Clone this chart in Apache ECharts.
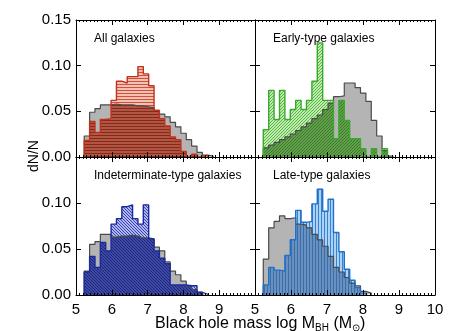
<!DOCTYPE html>
<html>
<head>
<meta charset="utf-8">
<title>Black hole mass histograms</title>
<script src="https://cdn.jsdelivr.net/npm/echarts@6/dist/echarts.min.js"></script>
<style>
  html, body { margin: 0; padding: 0; background: #fff; }
  #main { width: 449px; height: 331px; }
</style>
</head>
<body>
<div id="main"></div>
<script type="text/javascript">
// histogram bins (log M_BH): left edge of the first bin and bin width
var binStart = 5.23;
var binWidth = 0.15;

var xTicks = [5, 6, 7, 8, 9, 10];
var yTicks = [0, 0.05, 0.10, 0.15];
var panelNames = ['All galaxies', 'Early-type galaxies', 'Indeterminate-type galaxies', 'Late-type galaxies'];

// dN/N per bin
var grayAll    = [0.023, 0.049, 0.053, 0.057, 0.057, 0.058, 0.057, 0.057, 0.057, 0.056, 0.056, 0.055, 0.054, 0.051, 0.047, 0.044, 0.038, 0.033, 0.026, 0.019, 0.012, 0.005, 0.002, 0.001];
var redAll     = [0.018, 0.039, 0.027, 0.041, 0.042, 0.062, 0.083, 0.081, 0.088, 0.088, 0.099, 0.091, 0.078, 0.051, 0.042, 0.034, 0.022, 0.019, 0.006, 0.000, 0.003, 0.000, 0.002, 0.000];

var grayEarly  = [0.010, 0.013, 0.016, 0.019, 0.022, 0.025, 0.029, 0.033, 0.037, 0.042, 0.046, 0.052, 0.059, 0.066, 0.067, 0.081, 0.081, 0.076, 0.070, 0.061, 0.040, 0.023, 0.007, 0.001];
var greenEarly = [0.030, 0.073, 0.041, 0.073, 0.041, 0.052, 0.062, 0.052, 0.062, 0.083, 0.125, 0.062, 0.062, 0.020, 0.062, 0.040, 0.020, 0.020, 0.009, 0.000, 0.009, 0.000, 0.009, 0.000];

var grayIndet  = [0.026, 0.055, 0.058, 0.066, 0.066, 0.063, 0.064, 0.064, 0.065, 0.064, 0.062, 0.062, 0.061, 0.052, 0.048, 0.036, 0.026, 0.022, 0.015, 0.010, 0.006, 0.003, 0.001, 0.000];
var blueIndet  = [0.025, 0.042, 0.030, 0.057, 0.048, 0.077, 0.083, 0.096, 0.098, 0.083, 0.077, 0.098, 0.061, 0.048, 0.040, 0.034, 0.011, 0.011, 0.011, 0.010, 0.010, 0.003, 0.000, 0.000];

var grayLate   = [0.039, 0.073, 0.080, 0.086, 0.083, 0.084, 0.077, 0.076, 0.073, 0.066, 0.060, 0.053, 0.042, 0.030, 0.025, 0.019, 0.013, 0.010, 0.004, 0.002, 0.000, 0.000, 0.000, 0.000];
var blueLate   = [0.011, 0.030, 0.027, 0.026, 0.043, 0.060, 0.092, 0.079, 0.080, 0.099, 0.115, 0.091, 0.104, 0.068, 0.047, 0.028, 0.016, 0.008, 0.002, 0.000, 0.000, 0.000, 0.000, 0.000];

var FONT = 'Liberation Sans, Arial, Helvetica, sans-serif';

// small canvas tiles used as hatch fills
function hatch(bg, fg, kind) {
    var s = 3;
    var c = document.createElement('canvas');
    c.width = s; c.height = s;
    var g = c.getContext('2d');
    g.fillStyle = bg;
    g.fillRect(0, 0, s, s);
    g.fillStyle = fg;
    for (var k = 0; k < s; k++) {
        if (kind === 'h') g.fillRect(k, 0, 1, 1);
        if (kind === 'v') g.fillRect(0, k, 1, 1);
        if (kind === 'd') g.fillRect(k, s - 1 - k, 1, 1);
        if (kind === 'b') g.fillRect(k, k, 1, 1);
    }
    return { image: c, repeat: 'repeat' };
}

// histogram -> points for a step line
function stepData(vals) {
    var n = vals.length;
    while (n > 0 && vals[n - 1] === 0) n--;
    var pts = [[binStart, 0]];
    for (var i = 0; i < n; i++) pts.push([binStart + i * binWidth, vals[i]]);
    pts.push([binStart + n * binWidth, 0]);
    return pts;
}

var panels = [
    { vals: redAll, gray: grayAll, line: '#c3301b',
      light: hatch('#f4c2b4', '#d0503a', 'h'), dark: hatch('#b25644', '#86291a', 'h') },
    { vals: greenEarly, gray: grayEarly, line: '#3aaa2c',
      light: hatch('#c0eab0', '#56b845', 'd'), dark: hatch('#62a04c', '#3a7a2a', 'd') },
    { vals: blueIndet, gray: grayIndet, line: '#1a28a0',
      light: hatch('#b0b6ec', '#3442b4', 'b'), dark: hatch('#3e4aa4', '#1e267a', 'b') },
    { vals: blueLate, gray: grayLate, line: '#1f6fcc',
      light: hatch('#acd2f4', '#3482d4', 'v'), dark: hatch('#6890c0', '#3c6ea6', 'v') }
];

var grids = [
    { left: 76, top: 20, width: 179, height: 137 },
    { left: 255, top: 20, width: 180, height: 137 },
    { left: 76, top: 157, width: 179, height: 138 },
    { left: 255, top: 157, width: 180, height: 138 }
];

var axisLine = { show: true, onZero: false, lineStyle: { color: '#000', width: 1 } };
var xAxes = [], yAxes = [], series = [], graphics = [];

grids.forEach(function (g, k) {
    var bottomRow = k >= 2, leftCol = k % 2 === 0;
    [ 'bottom', 'top' ].forEach(function (pos) {
        xAxes.push({
            type: 'value', gridIndex: k, position: pos,
            min: xTicks[0], max: xTicks[xTicks.length - 1], interval: 1,
            z: 10,
            axisLine: axisLine,
            axisTick: { inside: true, length: 5, lineStyle: { color: '#000' } },
            minorTick: { show: true, splitNumber: 10, length: 2, lineStyle: { color: '#000' } },
            splitLine: { show: false },
            axisLabel: {
                show: pos === 'bottom' && bottomRow,
                showMaxLabel: !leftCol,
                margin: 7, color: '#000', fontSize: 15, fontFamily: FONT
            }
        });
    });
    [ 'left', 'right' ].forEach(function (pos) {
        yAxes.push({
            type: 'value', gridIndex: k, position: pos,
            min: yTicks[0], max: yTicks[yTicks.length - 1], interval: 0.05,
            z: 10,
            axisLine: axisLine,
            axisTick: { inside: true, length: 5, lineStyle: { color: '#000' } },
            splitLine: { show: false },
            axisLabel: {
                show: pos === 'left' && leftCol,
                showMaxLabel: !bottomRow,
                margin: 5, color: '#000', fontSize: 15, fontFamily: FONT,
                formatter: function (v) { return v.toFixed(2); }
            }
        });
    });

    var p = panels[k];
    var low = p.vals.map(function (v, i) { return Math.min(v, p.gray[i]); });
    var base = { type: 'line', xAxisIndex: 2 * k, yAxisIndex: 2 * k, step: 'end',
                 symbol: 'none', silent: true, animation: false };
    series.push(Object.assign({}, base, { data: stepData(p.vals), z: 1,
        lineStyle: { opacity: 0 }, areaStyle: { color: p.light, opacity: 1 } }));
    series.push(Object.assign({}, base, { data: stepData(p.gray), z: 2,
        lineStyle: { opacity: 0 }, areaStyle: { color: '#b4b4b4', opacity: 1 } }));
    series.push(Object.assign({}, base, { data: stepData(low), z: 3,
        lineStyle: { opacity: 0 }, areaStyle: { color: p.dark, opacity: 1 } }));
    series.push(Object.assign({}, base, { data: stepData(p.gray), z: 4,
        lineStyle: { color: '#4a4a4a', width: 1.2 } }));
    series.push(Object.assign({}, base, { data: stepData(p.vals), z: 5,
        lineStyle: { color: p.line, width: 1.4 } }));

    graphics.push({
        type: 'text', left: g.left + 18, top: g.top + 13,
        style: { text: panelNames[k], fill: '#000', font: '12px ' + FONT }
    });
});

graphics.push({
    type: 'text', x: 34, y: 156, rotation: Math.PI / 2,
    style: { text: 'dN/N', fill: '#000', font: '14px ' + FONT, align: 'center', verticalAlign: 'middle' }
});

var myChart = echarts.init(document.getElementById('main'));
myChart.setOption({
    animation: false,
    backgroundColor: '#fff',
    grid: grids,
    xAxis: xAxes,
    yAxis: yAxes,
    series: series,
    title: {
        text: 'Black hole mass log M{s|BH} (M{s|⊙})',
        left: 150, top: 309,
        textStyle: {
            color: '#000', fontSize: 16, fontWeight: 'normal', fontFamily: FONT,
            rich: { s: { fontSize: 10, fontFamily: FONT, color: '#000', padding: [9, 0, 0, 0] } }
        }
    },
    graphic: graphics
});
</script>
</body>
</html>
